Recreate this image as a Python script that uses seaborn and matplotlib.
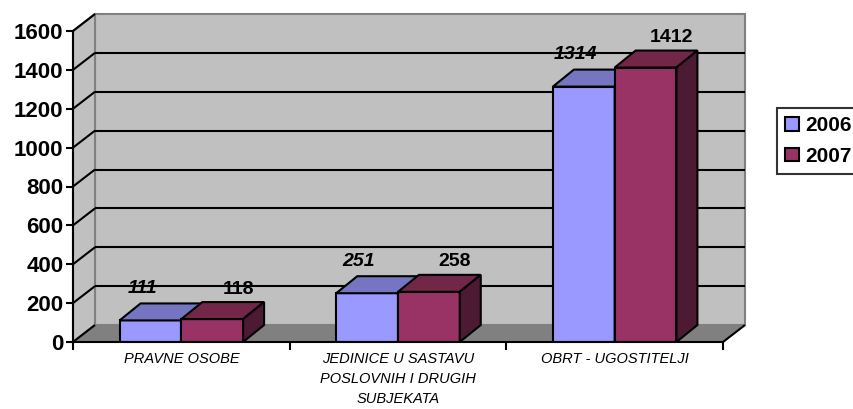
import numpy as np
import pandas as pd
import matplotlib
matplotlib.use("Agg")
import matplotlib.pyplot as plt
from matplotlib.patches import Polygon, Patch
from matplotlib.transforms import IdentityTransform
import seaborn as sns

# podaci
categories = ["PRAVNE OSOBE", "JEDINICE U SASTAVU\nPOSLOVNIH I DRUGIH\nSUBJEKATA", "OBRT - UGOSTITELJI"]
years = ["2006", "2007"]
v2006 = [111, 251, 1314]
v2007 = [118, 258, 1412]
yticks = [0, 200, 400, 600, 800, 1000, 1200, 1400, 1600]

front = {"2006": "#9999FF", "2007": "#993366"}
top = {"2006": "#7575C2", "2007": "#722648"}
side = {"2006": "#5A5A9A", "2007": "#4D1A33"}

df = pd.DataFrame({
    "kategorija": categories * 2,
    "godina": ["2006"] * 3 + ["2007"] * 3,
    "broj": v2006 + v2007,
})

sns.set_style("white")
plt.rcParams["font.family"] = ["Liberation Sans", "DejaVu Sans"]
plt.rcParams["text.color"] = "black"
plt.rcParams["xtick.color"] = "black"
plt.rcParams["ytick.color"] = "black"

W, H = 854, 409
fig = plt.figure(figsize=(W / 100, H / 100), dpi=100)
ax = fig.add_axes([73 / W, (H - 342) / H, 650 / W, 311 / H])
ax.patch.set_visible(False)

sns.barplot(data=df, x="kategorija", y="broj", hue="godina", palette=front,
            width=0.57, saturation=1, edgecolor="black", linewidth=1.5,
            legend=False, ax=ax, zorder=3)
ax.set_xlim(-0.5, 2.5)
ax.set_ylim(0, 1600)

DX, DY = 21, 17      # dubina stupaca (px)
WX, WY = 22, 17      # dubina zidova (px)


def px(x, y):
    return ax.transData.transform((x, y))


def poly(pts, fc, ec, lw, z):
    p = Polygon(pts, closed=True, facecolor=fc, edgecolor=ec, linewidth=lw,
                transform=IdentityTransform(), clip_on=False, zorder=z)
    ax.add_patch(p)


def line(pts, c, lw, z):
    pts = np.array(pts)
    ax.plot(pts[:, 0], pts[:, 1], color=c, lw=lw, transform=IdentityTransform(),
            clip_on=False, zorder=z, solid_capstyle="butt")


x0, x1 = ax.get_xlim()
bl, br, tl = px(x0, 0), px(x1, 0), px(x0, 1600)
off = np.array([WX, WY])
# zidovi i pod
poly([bl + off, br + off, px(x1, 1600) + off, tl + off], "#C0C0C0", "#808080", 1.5, 0.5)
poly([bl, bl + off, tl + off, tl], "#C0C0C0", "#808080", 1.5, 0.6)
poly([bl, br, br + off, bl + off], "#808080", "#808080", 1.0, 0.7)
line([br, br + off], "black", 1.5, 0.8)
for t in yticks[1:-1]:
    a, b = px(x0, t), px(x1, t)
    line([a + off, b + off], "black", 1.5, 0.8)
for t in yticks:
    a = px(x0, t)
    line([a, a + off], "black", 1.5, 0.8)

# 3D stupci
d = np.array([DX, DY])
for i, (yr, cont) in enumerate(zip(years, ax.containers)):
    for bar in cont:
        bar.set_zorder(3 + 2 * i)
        xa, xb = bar.get_x(), bar.get_x() + bar.get_width()
        h = bar.get_height()
        p00, p10, p01, p11 = px(xa, 0), px(xb, 0), px(xa, h), px(xb, h)
        poly([p01, p11, p11 + d, p01 + d], top[yr], "black", 1.5, 3.5 + 2 * i)
        poly([p10, p10 + d, p11 + d, p11], side[yr], "black", 1.5, 3.5 + 2 * i)
        if yr == "2006":
            ax.annotate(f"{int(h)}", xy=(xa + bar.get_width() / 2, h), xytext=(-8, 32),
                        textcoords="offset pixels", ha="center", va="center",
                        fontsize=14, fontweight="bold", fontstyle="italic", zorder=9)
        else:
            ax.annotate(f"{int(h)}", xy=(xa + bar.get_width() / 2, h), xytext=(26, 30),
                        textcoords="offset pixels", ha="center", va="center",
                        fontsize=14, fontweight="bold", zorder=9)

# osi
for s in ["top", "right"]:
    ax.spines[s].set_visible(False)
for s in ["left", "bottom"]:
    ax.spines[s].set_linewidth(1.5)
    ax.spines[s].set_color("black")
    ax.spines[s].set_zorder(9)
ax.set_yticks(yticks)
ax.set_yticklabels([str(t) for t in yticks], fontsize=16, fontweight="bold")
ax.tick_params(axis="y", length=5, width=1.5, pad=2, left=True)
ax.set_xticks([-0.5, 0.5, 1.5, 2.5])
ax.set_xticklabels([])
ax.set_xticks([0, 1, 2], minor=True)
ax.set_xticklabels(categories, minor=True, fontsize=10.5, fontstyle="italic", linespacing=1.55)
ax.tick_params(axis="x", which="major", length=6, width=1.5, bottom=True)
ax.tick_params(axis="x", which="minor", length=0, pad=7)
ax.set_xlabel("")
ax.set_ylabel("")

handles = [Patch(facecolor=front[y], edgecolor="black", linewidth=1.5, label=y) for y in years]
leg = fig.legend(handles=handles, loc="upper left", bbox_to_anchor=(777 / W, 1 - 108 / H),
                 frameon=True, fancybox=False, edgecolor="black", handlelength=0.65,
                 handleheight=0.65, handletextpad=0.3, borderpad=0.4, labelspacing=0.55,
                 borderaxespad=0, prop={"weight": "bold", "size": 15})
leg.get_frame().set_linewidth(1.5)

fig.savefig("out.png", dpi=100, facecolor="white")
